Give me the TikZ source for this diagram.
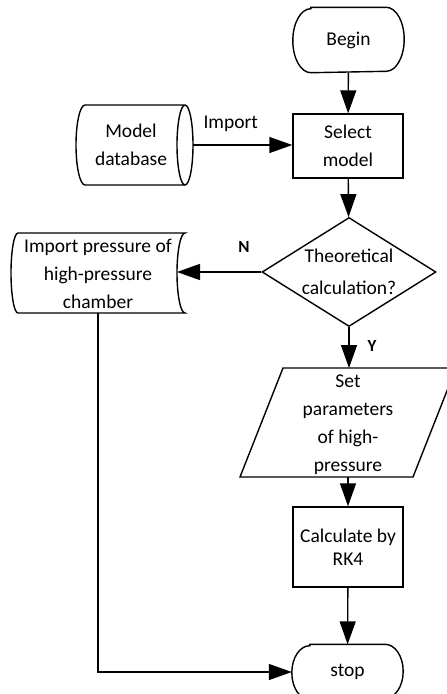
\documentclass[tikz,border=0pt]{standalone}
\usepackage{fontspec}
\setmainfont{Carlito}
\usetikzlibrary{arrows.meta,shapes.geometric}
\tikzset{
  fc_node/.style = {align=center, inner sep=0pt, text centered,
    font=\fontsize{19.5}{28}\selectfont},
  fc_term/.style = {fc_node, minimum width=110pt, minimum height=64pt},% debut / fin
  fc_proc/.style = {fc_node, rectangle, draw=black, line width=1.4pt,
    minimum width=110pt, minimum height=64pt},% traitement
  fc_dec/.style = {fc_node, diamond, draw=black, line width=1.4pt, aspect=1.6,
    minimum width=174pt, minimum height=109pt,
    font=\fontsize{19.5}{32}\selectfont},% decision
  fc_lab/.style = {inner sep=0pt, font=\fontsize{17}{20}\selectfont\bfseries}% etiquette
}
% contour arrondi d'un terminal : nom, demi-hauteur
\newcommand{\fcterm}[2]{%
  \draw[line width=1.4pt] ([xshift=18pt]#1.north west) -- ([xshift=-18pt]#1.north east)
    arc[start angle=90, end angle=-90, x radius=18pt, y radius=#2]
    -- ([xshift=18pt]#1.south west)
    arc[start angle=270, end angle=90, x radius=18pt, y radius=#2] -- cycle;}

\begin{document}
\begin{tikzpicture}[x=1pt, y=-1pt, line width=1.4pt,
                    >={Triangle[length=23pt,width=16pt]}]
  \clip (0,0) rectangle (447,694);
  \node [fc_term] (begin) at (348.5,40) {Begin};
  \node [fc_proc] (select) at (348,146) {Select\\model};
  \node [fc_node] (modeldb) at (131,145) {Model\\database};
  \node [fc_dec] (theory) at (349,272) {Theoretical\\calculation?};
  \node [fc_node] (imppres) at (98,274) {Import pressure of\\high-pressure\\chamber};
  \node [fc_node] (setpar) at (348,425) {Set\\parameters\\of high-\\pressure};
  \node [fc_proc, minimum height=80pt, font=\fontsize{19.5}{23}\selectfont]
        (calc) at (348,547) {Calculate by\\RK4};
  \node [fc_term, minimum height=54pt] (stop) at (347.5,672) {stop};

  % contours
  \fcterm{begin}{32pt}
  \fcterm{stop}{27pt}
  \draw (85,105) -- (185,105)
    arc[start angle=90, end angle=-270, x radius=8pt, y radius=40pt]
    (185,185) -- (85,185)
    arc[start angle=270, end angle=90, x radius=9pt, y radius=40pt];
  \draw (18,233) -- (185,233)
    arc[start angle=90, end angle=270, x radius=8pt, y radius=40pt]
    -- (18,313)
    arc[start angle=270, end angle=90, x radius=7pt, y radius=40pt] -- cycle;
  \draw (283,368) -- (456,368) -- (413,477) -- (240,477) -- cycle;

  \coordinate (db_port) at (193,145);
  \coordinate (imp_port) at (177,272);
  \coordinate (imp_bot) at (98,313);
  \coordinate (par_top) at (349,368);
  \coordinate (par_bot) at (348,477);

  % liaisons
  \draw [->] (begin) -- (select);
  \draw [->] (db_port) -- (db_port -| select.west)
    node [pos=0.38, above=13pt, fc_node] (importlab) {Import};
  \draw [->] (select) -- (theory);
  \draw [->] (theory.west) -- (imp_port);
  \node [fc_lab] (nlab) at (244,247) {N};
  \draw [->] (theory.south) -- (par_top);
  \node [fc_lab] (ylab) at (372,346) {Y};
  \draw [->] (par_bot) -- (calc);
  \draw [->] (calc) -- (stop);
  \draw [->] (imp_bot) |- (stop.west);
\end{tikzpicture}
\end{document}
